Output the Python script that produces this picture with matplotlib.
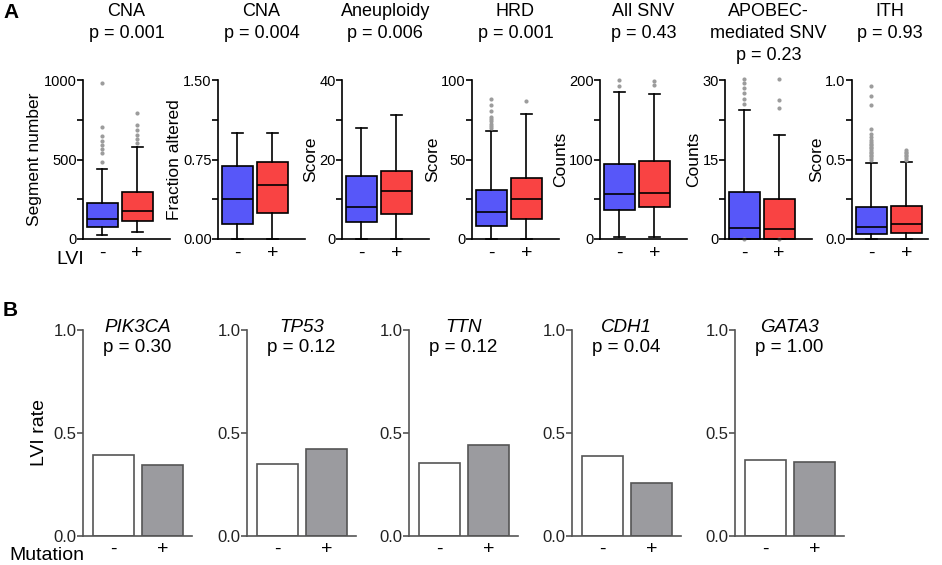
import matplotlib
matplotlib.use('Agg')
import matplotlib.pyplot as plt

plt.rcParams['font.family'] = ['Liberation Sans', 'DejaVu Sans']

# ---- panel A: genomic features by LVI status ----
a_titles = [["CNA", "p = 0.001"], ["CNA", "p = 0.004"], ["Aneuploidy", "p = 0.006"],
            ["HRD", "p = 0.001"], ["All SNV", "p = 0.43"],
            ["APOBEC-", "mediated SNV", "p = 0.23"], ["ITH", "p = 0.93"]]
a_ylabels = ["Segment number", "Fraction altered", "Score", "Score", "Counts", "Counts", "Score"]
a_ymax = [1000, 1.5, 40, 100, 200, 30, 1.0]
a_yticklabels = [["0", "500", "1000"], ["0.00", "0.75", "1.50"], ["0", "20", "40"],
                 ["0", "50", "100"], ["0", "100", "200"], ["0", "15", "30"], ["0.0", "0.5", "1.0"]]

# LVI- boxes
neg_q1 = [77, 0.14, 4.2, 8.3, 37, 0.0, 0.03]
neg_med = [126, 0.377, 8.1, 17, 56, 2.0, 0.075]
neg_q3 = [224, 0.69, 15.9, 31, 94.6, 8.8, 0.20]
neg_lo = [23, 0.0, 0.0, 0.0, 2, 0.0, 0.0]
neg_hi = [438, 1.0, 28, 68, 185, 24.4, 0.476]
neg_fliers = [[484, 541, 566, 589, 616, 650, 702, 979], [], [], [69.5, 71, 72.5, 74, 75.5, 77, 80.5, 84, 88],
              [192, 200], [0, 25.5, 26.5, 27.5, 28.4, 29.4, 30.2],
              [0.50, 0.51, 0.52, 0.53, 0.54, 0.55, 0.56, 0.57, 0.58, 0.59, 0.60, 0.61, 0.62,
               0.64, 0.66, 0.69, 0.84, 0.90, 0.96]]
# LVI+ boxes
pos_q1 = [115, 0.25, 6.2, 12.3, 40, 0.0, 0.04]
pos_med = [178, 0.51, 12, 25.4, 58, 1.8, 0.094]
pos_q3 = [294, 0.73, 17, 38.3, 97.5, 7.5, 0.21]
pos_lo = [42, 0.0, 0.0, 0.0, 2, 0.0, 0.0]
pos_hi = [580, 1.0, 31.2, 78.5, 183, 19.6, 0.487]
pos_fliers = [[605, 630, 655, 685, 720, 790], [], [], [87], [194, 199], [0, 24.7, 26.2, 30.2],
              [0.50, 0.51, 0.52, 0.53, 0.54, 0.55, 0.56]]

# ---- panel B: LVI rate by mutation status ----
genes = ["PIK3CA", "TP53", "TTN", "CDH1", "GATA3"]
gene_p = ["p = 0.30", "p = 0.12", "p = 0.12", "p = 0.04", "p = 1.00"]
rate_wt = [0.393, 0.350, 0.355, 0.385, 0.369]
rate_mut = [0.345, 0.420, 0.440, 0.254, 0.356]

W, H = 942, 565
BLUE = '#5757f9'
RED = '#f94343'
GREY_BAR = '#9b9b9f'

fig = plt.figure(figsize=(W / 100, H / 100), dpi=100)


def add_axes_px(left, top, width, height):
    return fig.add_axes([left / W, 1 - (top + height) / H, width / W, height / H])


a_left = [83, 218, 342, 472, 600, 725, 852]
for i in range(7):
    right_lim = 2.62 if i == 6 else 2.93
    width_px = (right_lim - 0.45) * 35
    ax = add_axes_px(a_left[i], 80, width_px, 159)
    stats = [
        dict(q1=neg_q1[i], med=neg_med[i], q3=neg_q3[i], whislo=neg_lo[i], whishi=neg_hi[i],
             fliers=neg_fliers[i]),
        dict(q1=pos_q1[i], med=pos_med[i], q3=pos_q3[i], whislo=pos_lo[i], whishi=pos_hi[i],
             fliers=pos_fliers[i]),
    ]
    lw = 1.2
    bp = ax.bxp(stats, positions=[1, 2], widths=0.9, capwidths=0.3, patch_artist=True,
                boxprops=dict(linewidth=lw, edgecolor='black'),
                medianprops=dict(color='black', linewidth=lw),
                whiskerprops=dict(color='black', linewidth=lw),
                capprops=dict(color='black', linewidth=lw),
                flierprops=dict(marker='o', markersize=3, markerfacecolor='#9c9c9c',
                                markeredgecolor='none'))
    for patch, c in zip(bp['boxes'], [BLUE, RED]):
        patch.set_facecolor(c)
    for key in ['fliers', 'whiskers', 'caps', 'boxes', 'medians']:
        for art in bp[key]:
            art.set_clip_on(False)

    ymax = a_ymax[i]
    ax.set_xlim(0.45, right_lim)
    ax.set_ylim(0, ymax)
    ax.set_yticks([0, ymax / 2, ymax], a_yticklabels[i])
    ax.set_yticks([ymax / 4, 3 * ymax / 4], minor=True)
    ax.set_xticks([1, 2], ['-', '+'])
    ax.tick_params(axis='y', which='both', length=4, width=lw, pad=0.5, labelsize=10.5)
    ax.tick_params(axis='x', length=0, pad=4, labelsize=14)
    for s in ['top', 'right']:
        ax.spines[s].set_visible(False)
    for s in ['left', 'bottom']:
        ax.spines[s].set_linewidth(lw)
    ax.set_ylabel(a_ylabels[i], fontsize=12.5, labelpad=1)

    cx = (a_left[i] + width_px / 2) / W
    for j, line in enumerate(a_titles[i]):
        fig.text(cx, 1 - (12 + 21.5 * j) / H, line, ha='center', va='center', fontsize=13)

fig.text(84 / W, 1 - 259 / H, 'LVI', ha='right', va='center', fontsize=14)
fig.text(3 / W, 1 - 12 / H, 'A', ha='left', va='center', fontsize=15, fontweight='bold')

b_left = [83, 247, 409, 572, 735]
for i in range(5):
    width_px = (2.59 - 0.39) * 49.5
    ax = add_axes_px(b_left[i], 330, width_px, 205.5)
    ax.bar([1, 2], [rate_wt[i], rate_mut[i]], width=0.83, color=['white', GREY_BAR],
           edgecolor='#555555', linewidth=1.2)
    ax.set_xlim(0.39, 2.59)
    ax.set_ylim(0, 1.0)
    ax.set_yticks([0, 0.5, 1.0], ["0.0", "0.5", "1.0"])
    ax.set_xticks([1, 2], ['-', '+'])
    ax.tick_params(axis='y', length=4, width=1.2, pad=0.5, labelsize=12,
                   color='#555555', labelcolor='#222222')
    ax.tick_params(axis='x', length=0, pad=4, labelsize=14)
    for s in ['top', 'right']:
        ax.spines[s].set_visible(False)
    for s in ['left', 'bottom']:
        ax.spines[s].set_linewidth(1.2)
        ax.spines[s].set_color('#555555')
    if i == 0:
        ax.set_ylabel('LVI rate', fontsize=14, labelpad=4)

    cx = (b_left[i] + width_px / 2) / W
    fig.text(cx, 1 - 327 / H, genes[i], ha='center', va='center', fontsize=13.5, style='italic')
    fig.text(cx, 1 - 348 / H, gene_p[i], ha='center', va='center', fontsize=13.5)

fig.text(84 / W, 1 - 556 / H, 'Mutation', ha='right', va='center', fontsize=14)
fig.text(3 / W, 1 - 310 / H, 'B', ha='left', va='center', fontsize=15, fontweight='bold')

fig.savefig('out.png', dpi=100)
